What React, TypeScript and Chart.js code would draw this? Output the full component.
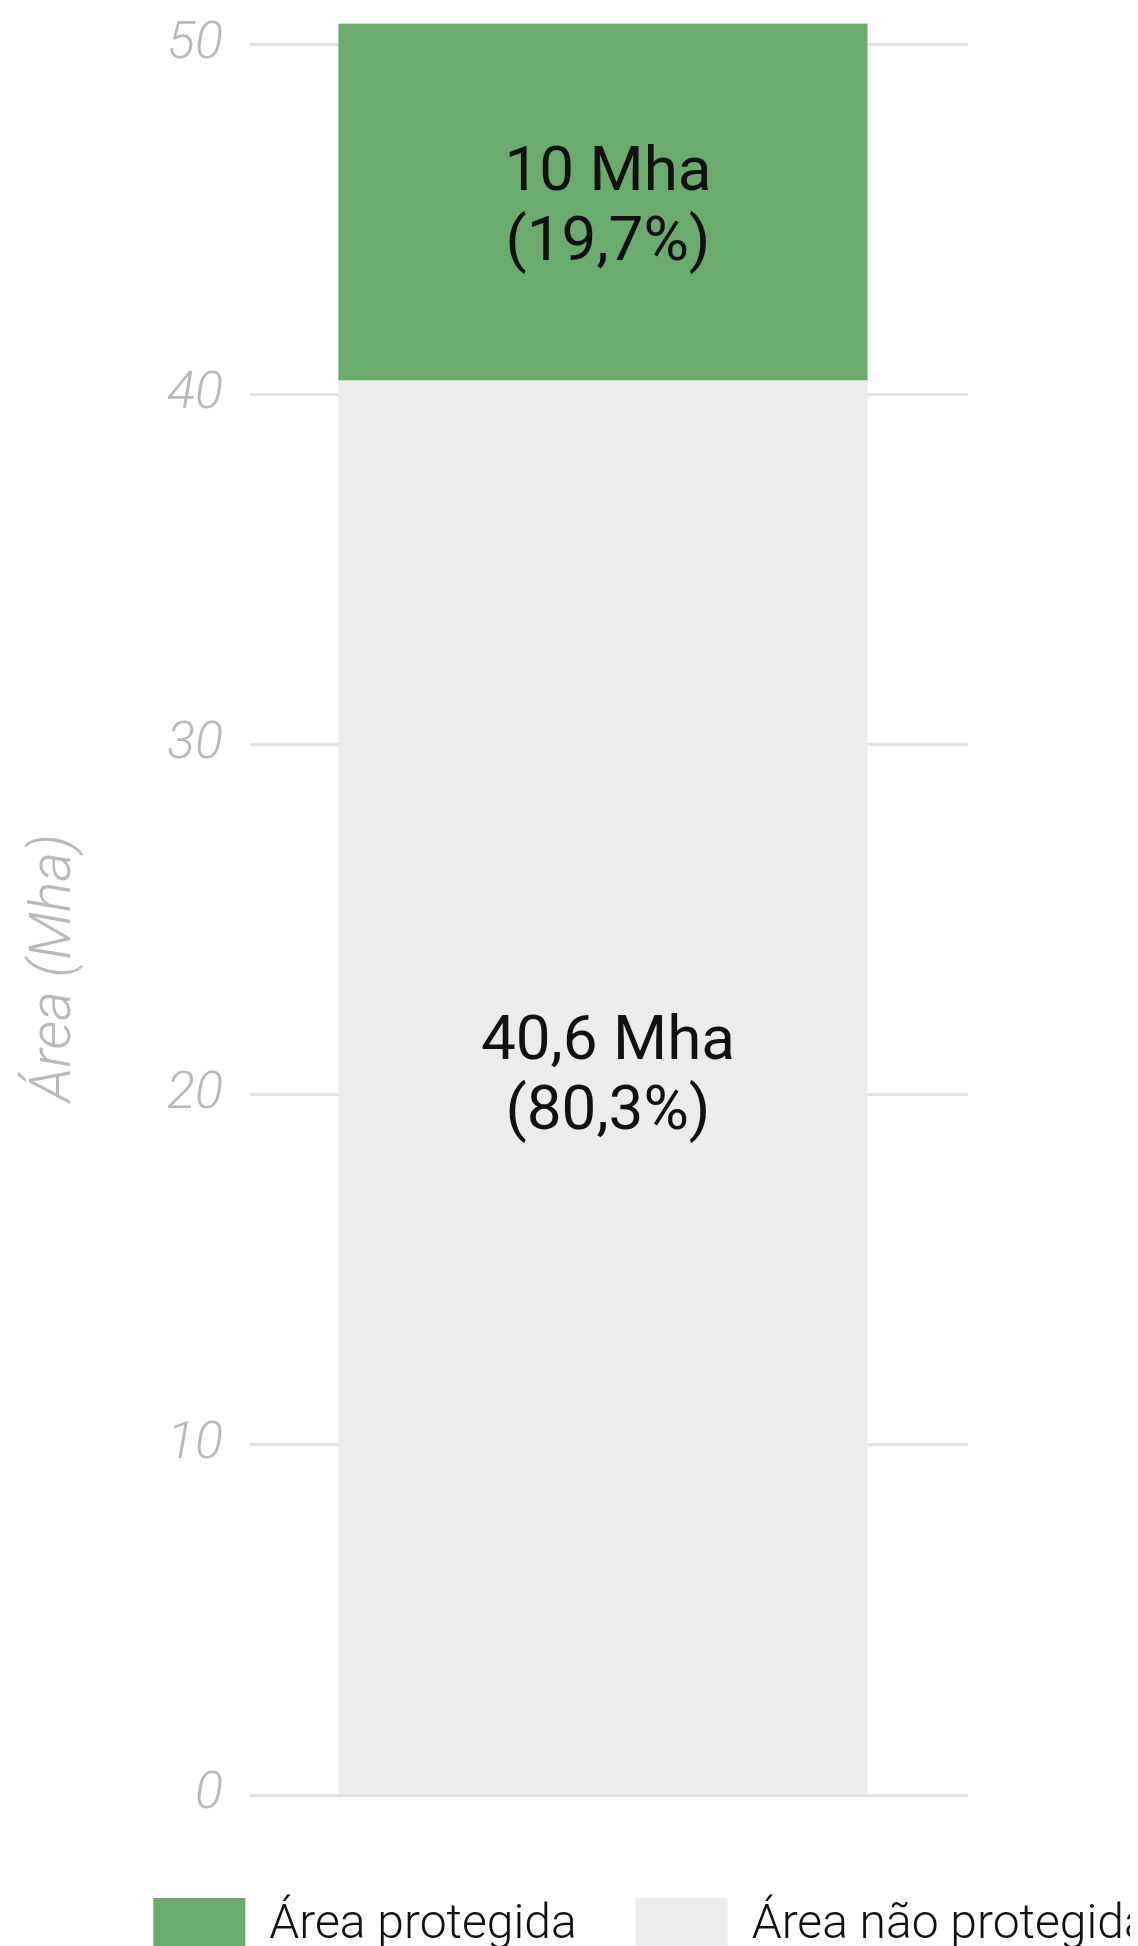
import React, { useEffect, useRef } from "react";
import { Chart, registerables } from "chart.js";

Chart.register(...registerables);

// ---- data ----
const categories = ["Total"];
const seriesNames = ["Área não protegida", "Área protegida"];
const unprotectedValues = [40.4];
const protectedValues = [10.2];
const unprotectedLabelLines = ["40,6 Mha", "(80,3%)"];
const protectedLabelLines = ["10 Mha", "(19,7%)"];
const yTickValues = [0, 10, 20, 30, 40, 50];
const yMax = 50.6;
const yAxisTitle = "Área (Mha)";

// ---- styles ----
const GREEN = "#69ac6c";
const LIGHT = "#ececec";
const FONT = "Roboto, 'Noto Sans', sans-serif";

const CANVAS_W = 1287;
const CANVAS_H = 1956;

const barLabelPlugin = {
  id: "barLabels",
  afterDatasetsDraw(chart: any) {
    const ctx = chart.ctx;
    chart.data.datasets.forEach((ds: any, i: number) => {
      const meta = chart.getDatasetMeta(i);
      const lines: string[] = ds.labelLines || [];
      const dy: number = ds.labelShift || 0;
      meta.data.forEach((bar: any) => {
        const p = bar.getProps(["x", "y", "base"], true);
        const cy = (p.y + p.base) / 2 + dy;
        ctx.save();
        ctx.font = `400 62px ${FONT}`;
        ctx.fillStyle = "#111111";
        ctx.textAlign = "center";
        ctx.textBaseline = "middle";
        const lh = 70;
        lines.forEach((t, k) => {
          ctx.fillText(t, p.x + 5, cy + (k - (lines.length - 1) / 2) * lh);
        });
        ctx.restore();
      });
    });
  },
};

const axisTitlePlugin = {
  id: "axisTitle",
  afterDraw(chart: any) {
    const ctx = chart.ctx;
    ctx.save();
    ctx.translate(48, 960);
    ctx.rotate(-Math.PI / 2);
    ctx.font = `italic 300 57px ${FONT}`;
    ctx.fillStyle = "#b9b9b9";
    ctx.textAlign = "center";
    ctx.textBaseline = "middle";
    ctx.fillText(yAxisTitle, 0, 0);
    ctx.restore();
  },
};

export default function App() {
  const ref = useRef<HTMLCanvasElement | null>(null);

  useEffect(() => {
    if (!ref.current) return;
    const chart = new Chart(ref.current, {
      type: "bar",
      data: {
        labels: categories,
        datasets: [
          {
            label: seriesNames[0],
            data: unprotectedValues.map((v, i) => ({ x: i, y: v })),
            backgroundColor: LIGHT,
            borderWidth: 0,
            yAxisID: "y",
            labelLines: unprotectedLabelLines,
            labelShift: -9,
          } as any,
          {
            label: seriesNames[1],
            data: protectedValues.map((v, i) => ({ x: i, y: v })),
            backgroundColor: GREEN,
            borderWidth: 0,
            yAxisID: "y",
            labelLines: protectedLabelLines,
            labelShift: 7,
          } as any,
        ],
      },
      options: {
        responsive: false,
        animation: false,
        devicePixelRatio: 1,
        layout: { padding: { top: 15.6, left: 0, right: 0, bottom: 0 } },
        datasets: {
          bar: { barThickness: 528.5 },
        },
        scales: {
          x: {
            type: "linear",
            stacked: true,
            min: -0.5,
            max: 0.52,
            display: true,
            grid: { display: false },
            border: { display: false },
            ticks: { display: false },
            afterFit: (s: any) => {
              s.height = 44;
              s.paddingLeft = 0;
              s.paddingRight = 0;
            },
          },
          y: {
            stacked: true,
            position: "left",
            min: 0,
            max: yMax,
            grid: { color: "#e2e2e2", lineWidth: 3, drawTicks: false },
            border: { display: false },
            ticks: {
              padding: 27,
              color: "#b8b8b8",
              font: { family: FONT, size: 52, style: "italic", weight: "300" },
            },
            afterBuildTicks: (s: any) => {
              s.ticks = yTickValues.map((v) => ({ value: v }));
            },
            afterFit: (s: any) => {
              s.width = 242;
              s.paddingTop = 0;
              s.paddingBottom = 0;
            },
          },
          yR: {
            type: "linear",
            position: "right",
            display: true,
            grid: { display: false },
            border: { display: false },
            ticks: { display: false },
            afterFit: (s: any) => {
              s.width = 327;
              s.paddingTop = 0;
              s.paddingBottom = 0;
            },
          },
        } as any,
        plugins: {
          legend: {
            position: "bottom",
            reverse: true,
            labels: {
              boxWidth: 92,
              boxHeight: 56,
              padding: 59,
              color: "#111111",
              font: { family: FONT, size: 48, weight: "300" },
            },
          },
          tooltip: { enabled: false },
        },
      },
      plugins: [barLabelPlugin, axisTitlePlugin],
    });
    return () => chart.destroy();
  }, []);

  return (
    <div style={{ width: 1130, height: 1938, overflow: "hidden", position: "relative" }}>
      <canvas
        ref={ref}
        width={CANVAS_W}
        height={CANVAS_H}
        style={{ width: CANVAS_W, height: CANVAS_H, display: "block" }}
      />
    </div>
  );
}
